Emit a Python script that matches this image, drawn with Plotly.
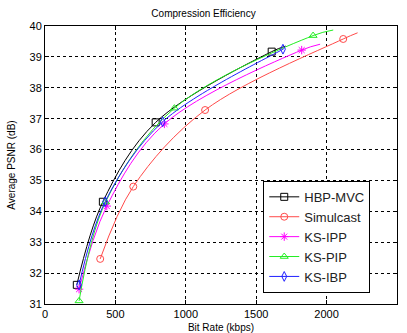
import plotly.graph_objects as go

# Marker data points (bit rate kbps, PSNR dB)
hbp_rate = [226, 411, 786, 1610]
hbp_psnr = [31.62, 34.31, 36.88, 39.17]
sim_rate = [392, 627, 1137, 2118]
sim_psnr = [32.46, 34.80, 37.28, 39.58]
ipp_rate = [242, 439, 848, 1823]
ipp_psnr = [31.48, 34.17, 36.83, 39.22]
pip_rate = [242, 430, 919, 1904]
pip_psnr = [31.10, 34.30, 37.34, 39.69]
ibp_rate = [242, 427, 836, 1690]
ibp_psnr = [31.62, 34.31, 36.90, 39.25]

# End points where each fitted line stops
hbp_end = (1709, 39.35)
sim_end = (2220, 39.78)
ipp_end = (1954, 39.41)
pip_end = (2047, 39.87)
ibp_end = (1700, 39.28)

names = ["HBP-MVC", "Simulcast", "KS-IPP", "KS-PIP", "KS-IBP"]
colors = ["#000000", "#ff4a4a", "#ff00ff", "#22ee22", "#2020ff"]
symbols = ["square-open", "circle-open", "asterisk-open", "triangle-up-open", "diamond-tall-open"]

series = [
    (hbp_rate, hbp_psnr, hbp_end),
    (sim_rate, sim_psnr, sim_end),
    (ipp_rate, ipp_psnr, ipp_end),
    (pip_rate, pip_psnr, pip_end),
    (ibp_rate, ibp_psnr, ibp_end),
]

fig = go.Figure()
for (xr, yr, end), name, c, s in zip(series, names, colors, symbols):
    fig.add_trace(go.Scatter(
        x=xr + [end[0]], y=yr + [end[1]], mode="lines",
        line=dict(color=c, width=1, shape="spline", smoothing=1.0),
        showlegend=False, hoverinfo="skip"))
    fig.add_trace(go.Scatter(
        x=xr, y=yr, mode="markers", name=name,
        marker=dict(symbol=s, size=7, color=c, line=dict(color=c, width=1)),
        showlegend=False))
    # legend entry with line + marker
    fig.add_trace(go.Scatter(
        x=[None], y=[None], mode="lines+markers", name=name,
        line=dict(color=c, width=1),
        marker=dict(symbol=s, size=7, color=c, line=dict(color=c, width=1))))

font_family = "Liberation Sans, Arial"

axis_common = dict(
    showline=True, linecolor="black", linewidth=1, mirror="ticks",
    ticks="inside", ticklen=4, tickcolor="black",
    showgrid=True, gridcolor="black", gridwidth=1, griddash="dot",
    zeroline=False, automargin=False,
    tickfont=dict(family=font_family, size=11, color="black"),
)

fig.update_layout(
    template="none",
    width=407, height=333,
    margin=dict(l=45, r=10, t=26, b=29, pad=0),
    paper_bgcolor="white", plot_bgcolor="white",
    title=dict(text="Compression Efficiency", x=0.5, xanchor="center",
               y=1 - 13 / 333, yanchor="middle", yref="container",
               font=dict(family=font_family, size=10, color="black")),
    xaxis=dict(range=[0, 2500], tickvals=[0, 500, 1000, 1500, 2000, 2500],
               title=dict(text="Bit Rate (kbps)",
                          font=dict(family=font_family, size=10, color="black")),
               **axis_common),
    yaxis=dict(range=[31, 40], tickvals=list(range(31, 41)),
               title=dict(text="Average PSNR (dB)",
                          font=dict(family=font_family, size=10, color="black")),
               **axis_common),
    legend=dict(x=0.62, y=0.04, xanchor="left", yanchor="bottom",
                bgcolor="white", bordercolor="black", borderwidth=1,
                font=dict(family=font_family, size=13, color="#222222"),
                itemwidth=30, tracegroupgap=0),
    showlegend=True,
)

fig.write_html("out.html", config={"displayModeBar": False},
               post_script="document.body.style.margin='0';")
